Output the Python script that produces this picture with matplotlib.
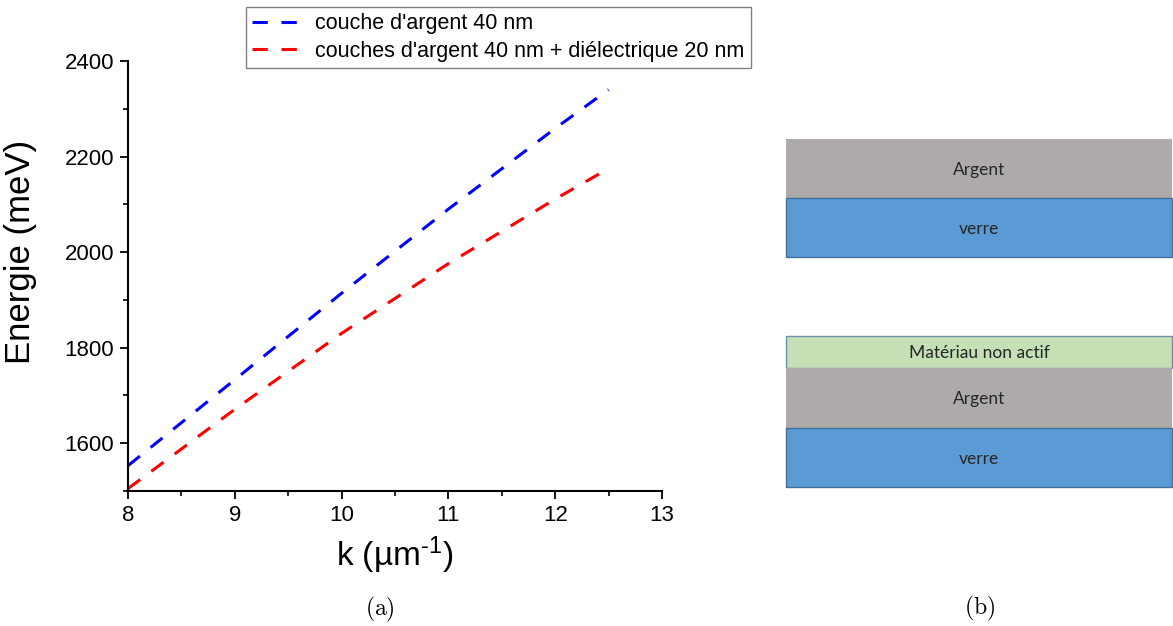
import matplotlib
matplotlib.use('Agg')
import matplotlib.pyplot as plt
import matplotlib.ticker as ticker
from matplotlib.patches import Rectangle

plt.rcParams['font.family'] = ['Liberation Sans', 'DejaVu Sans']
plt.rcParams['mathtext.fontset'] = 'custom'
plt.rcParams['mathtext.rm'] = 'Liberation Sans'
plt.rcParams['mathtext.it'] = 'Liberation Sans'
plt.rcParams['mathtext.default'] = 'regular'

# dispersion curves
k = [8, 9, 10, 11, 12, 12.5]
e_argent = [1553, 1733, 1914, 2090, 2259, 2340]
e_dielec = [1505, 1671, 1830, 1976, 2111, 2175]
lbl_argent = "couche d'argent 40 nm"
lbl_dielec = "couches d'argent 40 nm + diélectrique 20 nm"

# layer stacks for panel (b), top to bottom
stack1_names = ['Argent', 'verre']
stack1_thick = [59, 59]
stack2_names = ['Matériau non actif', 'Argent', 'verre']
stack2_thick = [32, 60, 59]
layer_colors = {'Matériau non actif': '#C5E0B4', 'Argent': '#AEAAAA', 'verre': '#5B9BD5'}
layer_edges = {'Matériau non actif': '#6f8fae', 'Argent': 'none', 'verre': '#41719C'}

W, H = 1173, 626
fig = plt.figure(figsize=(W / 100, H / 100), dpi=100)

# panel (b): drawn in pixel coordinates
axb = fig.add_axes([0, 0, 1, 1])
axb.set_xlim(0, W)
axb.set_ylim(H, 0)
axb.axis('off')

def draw_stack(y0, names, thick):
    y = y0
    for name, t in zip(names, thick):
        axb.add_patch(Rectangle((786, y), 386, t, facecolor=layer_colors[name],
                                edgecolor=layer_edges[name], linewidth=1.0))
        axb.text(979, y + t / 2 + 1, name, ha='center', va='center', fontsize=12.5,
                 color='#262626', family=['Lato', 'DejaVu Sans'])
        y += t

draw_stack(139, stack1_names, stack1_thick)
draw_stack(336, stack2_names, stack2_thick)

# panel (a)
ax = fig.add_axes([128 / W, 1 - 491 / H, 534 / W, 430 / H])
ax.plot(k, e_argent, color='#0000ff', lw=2.2, ls=(0, (5, 4.5)), label=lbl_argent)
ax.plot(k, e_dielec, color='#ff0000', lw=2.2, ls=(0, (5, 4.5)), label=lbl_dielec)

ax.set_xlim(8, 13)
ax.set_ylim(1500, 2400)
ax.spines['top'].set_visible(False)
ax.spines['right'].set_visible(False)
ax.spines['left'].set_linewidth(1.5)
ax.spines['bottom'].set_linewidth(1.5)
ax.xaxis.set_major_locator(ticker.MultipleLocator(1))
ax.xaxis.set_minor_locator(ticker.MultipleLocator(0.5))
ax.yaxis.set_major_locator(ticker.MultipleLocator(200))
ax.yaxis.set_minor_locator(ticker.MultipleLocator(100))
ax.tick_params(which='major', length=6, width=1.3, labelsize=16, pad=4)
ax.tick_params(which='minor', length=3.5, width=1.2)

ax.set_ylabel('Energie (meV)', fontsize=25)
ax.yaxis.set_label_coords(-0.170, 0.556)
ax.set_xlabel('k (µm$^{\u2010 1}$)', fontsize=24)
ax.xaxis.set_label_coords(0.5, -0.1)

leg = ax.legend(loc='upper left', bbox_to_anchor=(246 / W, 1 - 7 / H),
                bbox_transform=fig.transFigure, fontsize=15.5, handlelength=2.3,
                handletextpad=0.6, labelspacing=0.3, borderpad=0.3,
                borderaxespad=0, fancybox=False, framealpha=1, edgecolor='#808080')
leg.get_frame().set_linewidth(1.0)

fig.text(380 / W, 1 - 609 / H, r'$\mathrm{(a)}$', ha='center', va='center',
         fontsize=17, math_fontfamily='cm')
fig.text(980 / W, 1 - 608 / H, r'$\mathrm{(b)}$', ha='center', va='center',
         fontsize=17, math_fontfamily='cm')

fig.savefig('out.png', dpi=100)
